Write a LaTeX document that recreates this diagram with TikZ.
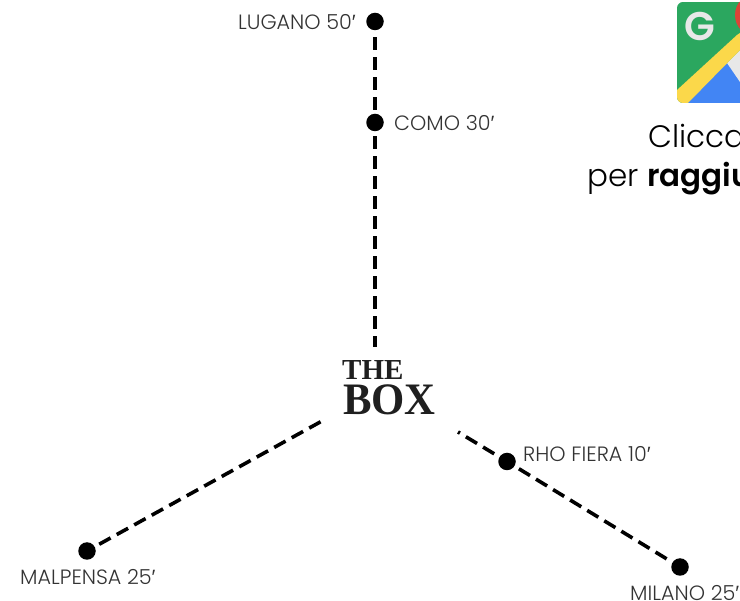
\documentclass[tikz,border=0pt]{standalone}
\usepackage{fontspec}
\setmainfont{Poppins Light}
\newfontfamily\ctabold{Poppins SemiBold}
\newfontfamily\primefont{Liberation Sans}
\newfontfamily\logofont{Liberation Serif}
\newcommand{\primemark}{{\primefont ′}}
\definecolor{lab}{HTML}{333333}
\definecolor{gmgreen}{HTML}{2BA75F}
\definecolor{gmblue}{HTML}{4285F4}
\definecolor{gmyellow}{HTML}{FBD84A}
\definecolor{gmred}{HTML}{DB4437}
\definecolor{gmgrey}{HTML}{E8E8E8}
\tikzset{
  stopdot/.style={circle,fill=black,inner sep=0pt,minimum size=17.5pt},
  lbl/.style={inner sep=0pt,text=lab,font=\fontsize{20.7}{22}\selectfont},
  route/.style={line width=3.6pt,dash pattern=on 13pt off 7pt},
  cta/.style={inner sep=0pt,text=black,font=\fontsize{31}{34}\selectfont}
}
\begin{document}
\begin{tikzpicture}[x=1pt,y=-1pt]
\useasboundingbox (0,0) rectangle (740,601);
\clip (0,0) rectangle (740,601);
% map icon
\begin{scope}
  \clip[rounded corners=6pt] (677,2) rectangle (790,103);
  \fill[gmgreen] (677,2) rectangle (790,103);
  \fill[gmblue] (687,103) -- (727,63) -- (790,103) -- cycle;
  \fill[gmgrey] (727,63) -- (740,50) -- (740,82) -- cycle;
  \fill[gmyellow] (677,90) -- (737,35) -- (740,33) -- (740,50) -- (688,103) -- (677,103) -- cycle;
  \fill[gmred] (757,15) circle (22pt);
\end{scope}
\node[inner sep=0pt,text=gmgrey,font=\ctabold\fontsize{40}{40}\selectfont] (g) at (700,26) {G};
\node[cta,anchor=base west] (c1) at (648,148) {Clicca};
\node[cta,anchor=base west] (c2) at (587,187) {per {\ctabold raggiu}};
% stops
\node[stopdot] (lugano) at (375,21.5) {};
\node[stopdot] (como) at (375,122.5) {};
\node[stopdot] (rho) at (507,461.5) {};
\node[stopdot] (milano) at (680,567) {};
\node[stopdot] (malpensa) at (87,551) {};
\coordinate (top) at (375,347);
\coordinate (right) at (458,432);
\coordinate (left) at (322,421);
% logo
\node[inner sep=0pt,text=black!88,font=\logofont\bfseries\fontsize{29}{29}\selectfont,anchor=base west] (the) at (342,380) {THE};
\node[inner sep=0pt,text=black!88,font=\logofont\bfseries\fontsize{45}{45}\selectfont,anchor=base west,xscale=0.95] (box) at (343,415) {BOX};
% labels
\node[lbl,anchor=east] (tl) at (356,22) {LUGANO 50\primemark};
\node[lbl,anchor=west] (tc) at (394,123) {COMO 30\primemark};
\node[lbl,anchor=west] (tr) at (523,454) {RHO FIERA 10\primemark};
\node[lbl,anchor=west] (tma) at (20,577) {MALPENSA 25\primemark};
\node[lbl,anchor=west] (tmi) at (630,593) {MILANO 25\primemark};
% routes
\draw[route,shorten <=7pt] (lugano) -- (como);
\draw[route,shorten <=5pt] (como) -- (top);
\draw[route,shorten <=6pt] (rho) -- (right);
\draw[route,shorten <=5pt] (rho) -- (milano);
\draw[route,shorten <=5pt] (malpensa) -- (left);
\end{tikzpicture}
\end{document}
